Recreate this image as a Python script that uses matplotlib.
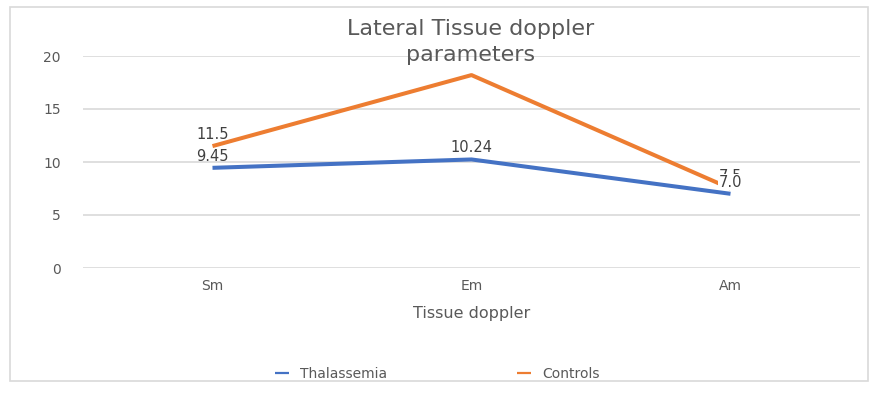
import matplotlib.pyplot as plt
from matplotlib.patches import Rectangle

# Data
categories = ["Sm", "Em", "Am"]
thalassemia = [9.45, 10.24, 7.0]
controls = [11.5, 18.2, 7.5]
thal_labels = ["9.45", "10.24", "7.0"]
ctrl_labels = ["11.5", "", "7.5"]

blue = "#4472C4"
orange = "#ED7D31"
grey = "#595959"

fig = plt.figure(figsize=(8.78, 3.93), dpi=100)
ax = fig.add_axes([83 / 878, (393 - 268) / 393, 777 / 878, 212 / 393])

# chart border
fig.patches.append(Rectangle((10 / 878, 12 / 393), 858 / 878, 374 / 393,
                             transform=fig.transFigure, fill=False,
                             edgecolor="#D9D9D9", linewidth=1.2))

x = list(range(len(categories)))
ax.plot(x, thalassemia, color=blue, linewidth=2.9, label="Thalassemia",
        solid_capstyle="butt", zorder=3)
ax.plot(x, controls, color=orange, linewidth=2.9, label="Controls",
        solid_capstyle="butt", zorder=3)

# data labels (the Am labels overlap in the original chart too)
for xi, v, t in zip(x, controls, ctrl_labels):
    if t:
        ax.annotate(t, (xi, v), xytext=(0, 3), textcoords="offset points",
                    ha="center", va="bottom", fontsize=10.5, color="#404040", zorder=4)
for xi, v, t in zip(x, thalassemia, thal_labels):
    box = dict(boxstyle="square,pad=0.05", fc="white", ec="none") if t == "7.0" else None
    ax.annotate(t, (xi, v), xytext=(0, 3), textcoords="offset points",
                ha="center", va="bottom", fontsize=10.5, color="#404040", zorder=5,
                bbox=box)

ax.set_xlim(-0.5, 2.5)
ax.set_ylim(0, 20)
ax.set_yticks([0, 5, 10, 15, 20])
ax.set_xticks(x)
ax.set_xticklabels(categories)
ax.grid(axis="y", color="#D9D9D9", linewidth=1.2)
ax.set_axisbelow(True)
for s in ax.spines.values():
    s.set_visible(False)
ax.tick_params(axis="both", length=0, labelsize=10, colors=grey)
ax.tick_params(axis="y", pad=16)
ax.tick_params(axis="x", pad=8)

ax.set_xlabel("Tissue doppler", fontsize=11.5, color=grey, labelpad=9)
fig.text(0.536, 0.893, "Lateral Tissue doppler\nparameters", ha="center", va="center",
         fontsize=16, color=grey, linespacing=1.38)

leg = ax.legend(loc="center", bbox_to_anchor=(0.456, -0.5), ncol=2, frameon=False,
                fontsize=10, labelcolor=grey, handlelength=1.0, columnspacing=9.3,
                handletextpad=0.85)
for h in leg.get_lines():
    h.set_linewidth(1.6)

fig.savefig("out.png", dpi=100)
